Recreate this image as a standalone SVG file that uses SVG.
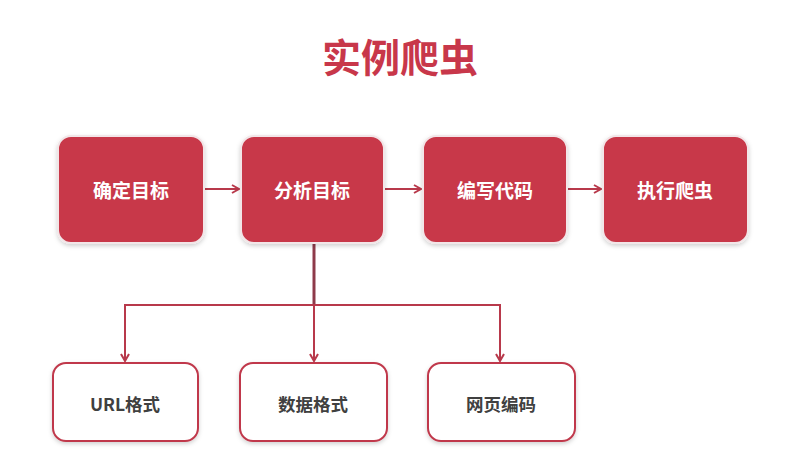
<svg xmlns="http://www.w3.org/2000/svg" width="798" height="465" viewBox="0 0 798 465">
<defs>
<style>
.top rect{fill:#C83749;stroke:#F2E6E8;stroke-width:2;filter:url(#sh)}
.top text{fill:#FFFFFF;font-family:"Noto Sans CJK SC","Noto Sans",sans-serif;font-weight:bold;font-size:19px;text-anchor:middle;dominant-baseline:central}
.bot rect{fill:#FFFFFF;stroke:#C0394B;stroke-width:2;filter:url(#sh)}
.bot text{fill:#404040;font-family:"Noto Sans CJK SC","Noto Sans",sans-serif;font-weight:bold;font-size:17.5px;text-anchor:middle;dominant-baseline:central}
.c{fill:none;stroke:#B8394B;stroke-width:2}
</style>
<filter id="sh" x="-10%" y="-10%" width="120%" height="130%">
<feDropShadow dx="0" dy="2" stdDeviation="2" flood-color="#000" flood-opacity="0.18"/>
</filter>
<marker id="ah" markerWidth="10" markerHeight="10" refX="8" refY="5" orient="auto" markerUnits="userSpaceOnUse">
<path d="M1,1 L8,5 L1,9" fill="none" stroke="#B8394B" stroke-width="2"/>
</marker>
</defs>
<rect width="798" height="465" fill="#FFFFFF"/>
<text x="400" y="55" fill="#C8374A" font-family="Noto Sans CJK SC, sans-serif" font-weight="bold" font-size="39" text-anchor="middle" dominant-baseline="central">实例爬虫</text>
<g id="connectors">
<line class="c" x1="204" y1="189" x2="239" y2="189" marker-end="url(#ah)"/>
<line class="c" x1="384" y1="189" x2="421" y2="189" marker-end="url(#ah)"/>
<line class="c" x1="567" y1="189" x2="601" y2="189" marker-end="url(#ah)"/>
<line x1="314" y1="244" x2="314" y2="305" stroke="#8E3A4A" stroke-width="3"/>
<path class="c" d="M125,305 L500,305"/>
<line class="c" x1="125" y1="304" x2="125" y2="361" marker-end="url(#ah)"/>
<line class="c" x1="314" y1="305" x2="314" y2="361" marker-end="url(#ah)"/>
<line class="c" x1="500" y1="304" x2="500" y2="361" marker-end="url(#ah)"/>
</g>
<g id="n1" class="top"><rect x="58" y="136" width="146" height="107" rx="13"/><text x="131" y="189">确定目标</text></g>
<g id="n2" class="top"><rect x="241" y="136" width="143" height="107" rx="13"/><text x="312" y="189">分析目标</text></g>
<g id="n3" class="top"><rect x="423" y="136" width="144" height="107" rx="13"/><text x="495" y="189">编写代码</text></g>
<g id="n4" class="top"><rect x="603" y="136" width="145" height="107" rx="13"/><text x="675" y="189">执行爬虫</text></g>
<g id="n5" class="bot"><rect x="53" y="363" width="145" height="78" rx="13"/><text x="125" y="403">URL格式</text></g>
<g id="n6" class="bot"><rect x="240" y="363" width="147" height="78" rx="13"/><text x="313" y="403">数据格式</text></g>
<g id="n7" class="bot"><rect x="428" y="363" width="147" height="78" rx="13"/><text x="501" y="403">网页编码</text></g>
</svg>
